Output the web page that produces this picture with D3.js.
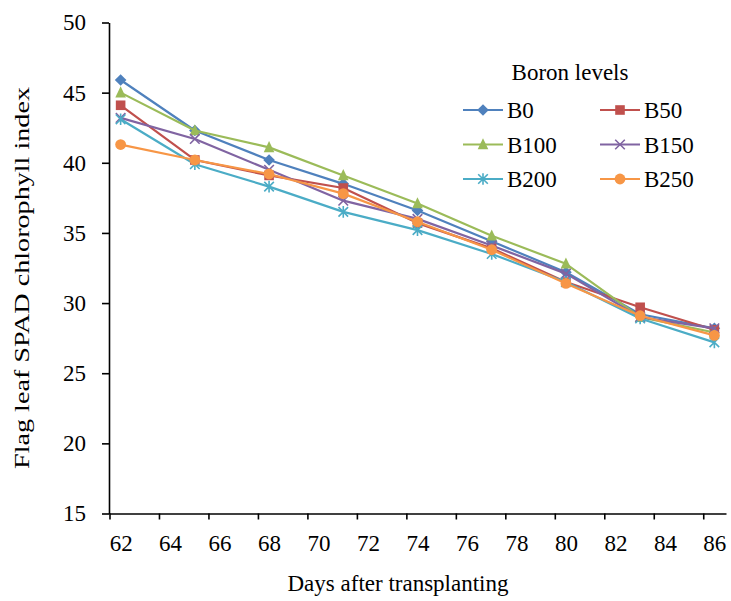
<!DOCTYPE html>
<html>
<head>
<meta charset="utf-8">
<script src="https://cdn.jsdelivr.net/npm/d3@7"></script>
<style>
  html, body { margin: 0; padding: 0; background: #fff; }
  svg { display: block; }
  text { font-family: "Liberation Serif", "Times New Roman", serif; fill: #000; }
</style>
</head>
<body>
<svg id="chart" width="731" height="601"></svg>
<script>
// ---- data ----
const days = [62, 65, 68, 71, 74, 77, 80, 83, 86];
const seriesNames = ["B0", "B50", "B100", "B150", "B200", "B250"];
const B0   = [45.9, 42.3, 40.2, 38.5, 36.6, 34.4, 32.2, 29.2, 28.2];
const B50  = [44.1, 40.2, 39.1, 38.2, 35.7, 33.9, 31.5, 29.7, 28.1];
const B100 = [45.0, 42.3, 41.1, 39.1, 37.1, 34.8, 32.8, 29.0, 27.9];
const B150 = [43.2, 41.7, 39.5, 37.3, 36.0, 34.1, 32.1, 29.0, 28.2];
const B200 = [43.1, 39.9, 38.3, 36.5, 35.2, 33.5, 31.5, 28.9, 27.2];
const B250 = [41.3, 40.2, 39.2, 37.8, 35.8, 33.8, 31.4, 29.1, 27.7];
const xTickLabels = [62, 64, 66, 68, 70, 72, 74, 76, 78, 80, 82, 84, 86];
const yTickLabels = [15, 20, 25, 30, 35, 40, 45, 50];
const colors = ["#4F81BD", "#C0504D", "#9BBB59", "#8064A2", "#4BACC6", "#F79646"];
const markers = ["diamond", "square", "triangle", "x", "star", "circle"];

const seriesValues = [B0, B50, B100, B150, B200, B250];

// ---- layout ----
const svg = d3.select("#chart");
const x = d3.scaleLinear().domain([61.53, 86.47]).range([109, 726]);
const y = d3.scaleLinear().domain([15, 50]).range([513.5, 22.5]);
const tickShift = -0.45; // tick marks sit slightly left of their labels

// y axis
const yAxis = svg.append("g")
  .attr("transform", `translate(${x(61.53)},0)`)
  .call(d3.axisLeft(y).tickValues(yTickLabels).tickSize(7).tickSizeOuter(0).tickPadding(16));
yAxis.select(".domain").attr("stroke", "#000").attr("stroke-width", 1.6);
yAxis.selectAll(".tick line").attr("stroke", "#000").attr("stroke-width", 1.6);
yAxis.selectAll(".tick text").attr("font-size", 23).attr("fill", "#000");

// x axis
const xAxis = svg.append("g")
  .attr("transform", `translate(0,${y(15)})`)
  .call(d3.axisBottom(x).tickValues(xTickLabels).tickSize(6).tickSizeOuter(0).tickPadding(15).tickFormat(d3.format("d")));
xAxis.select(".domain").attr("stroke", "#000").attr("stroke-width", 1.6);
const shiftPx = x(62 + tickShift) - x(62);
xAxis.selectAll(".tick line").attr("stroke", "#000").attr("stroke-width", 1.6)
  .attr("x1", shiftPx).attr("x2", shiftPx);
xAxis.selectAll(".tick text").attr("font-size", 23).attr("fill", "#000");

// axis titles
svg.append("text")
  .attr("x", 398).attr("y", 591)
  .attr("text-anchor", "middle")
  .attr("font-size", 23)
  .text("Days after transplanting");
svg.append("text")
  .attr("transform", `translate(29,278) rotate(-90)`)
  .attr("text-anchor", "middle")
  .attr("font-size", 22)
  .attr("textLength", 382)
  .attr("lengthAdjust", "spacingAndGlyphs")
  .text("Flag leaf SPAD chlorophyll index");

// marker drawing
function drawMarker(g, type, color, cx, cy) {
  const s = 4.8;
  if (type === "diamond") {
    g.append("path").attr("d", `M${cx},${cy-s-1}L${cx+s+1},${cy}L${cx},${cy+s+1}L${cx-s-1},${cy}Z`).attr("fill", color);
  } else if (type === "square") {
    g.append("rect").attr("x", cx - s).attr("y", cy - s).attr("width", 2*s).attr("height", 2*s).attr("fill", color);
  } else if (type === "triangle") {
    g.append("path").attr("d", `M${cx},${cy-s-1.5}L${cx+s+0.5},${cy+s}L${cx-s-0.5},${cy+s}Z`).attr("fill", color);
  } else if (type === "x") {
    g.append("path").attr("d", `M${cx-s},${cy-s}L${cx+s},${cy+s}M${cx-s},${cy+s}L${cx+s},${cy-s}`).attr("stroke", color).attr("stroke-width", 1.6);
  } else if (type === "star") {
    g.append("path").attr("d", `M${cx-s},${cy-s}L${cx+s},${cy+s}M${cx-s},${cy+s}L${cx+s},${cy-s}M${cx},${cy-s-1}L${cx},${cy+s+1}`).attr("stroke", color).attr("stroke-width", 1.6);
  } else if (type === "circle") {
    g.append("circle").attr("cx", cx).attr("cy", cy).attr("r", s + 0.6).attr("fill", color);
  }
}

// series lines
const line = d3.line().x((d, i) => x(days[i])).y(d => y(d));
seriesValues.forEach((vals, si) => {
  const g = svg.append("g");
  g.append("path").datum(vals).attr("d", line)
    .attr("fill", "none").attr("stroke", colors[si]).attr("stroke-width", 2.2)
    .attr("stroke-linejoin", "round");
  vals.forEach((v, i) => drawMarker(g, markers[si], colors[si], x(days[i]), y(v)));
});

// legend
const legend = svg.append("g");
legend.append("text").attr("x", 570).attr("y", 80).attr("text-anchor", "middle")
  .attr("font-size", 23).text("Boron levels");
const colX = [463, 600];
const rowY = [110, 144.5, 179];
seriesNames.forEach((name, i) => {
  const lx = colX[i % 2], ly = rowY[Math.floor(i / 2)];
  legend.append("line").attr("x1", lx).attr("x2", lx + 40).attr("y1", ly).attr("y2", ly)
    .attr("stroke", colors[i]).attr("stroke-width", 2.2);
  drawMarker(legend, markers[i], colors[i], lx + 20, ly);
  legend.append("text").attr("x", lx + 44).attr("y", ly + 8)
    .attr("font-size", 23).text(name);
});
</script>
</body>
</html>
